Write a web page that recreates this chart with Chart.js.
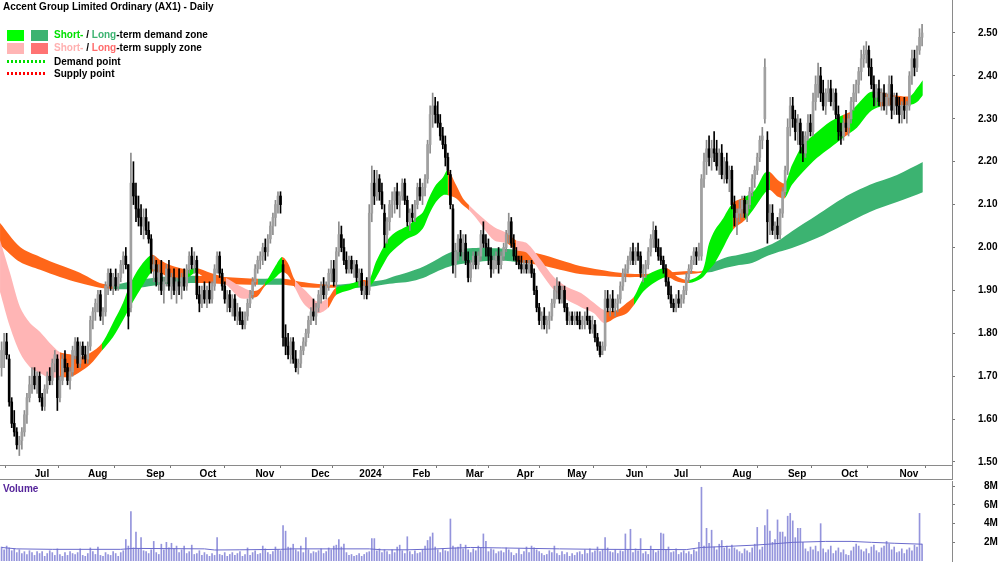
<!DOCTYPE html>
<html><head><meta charset="utf-8">
<script src="https://cdn.jsdelivr.net/npm/chart.js@4.4.1/dist/chart.umd.min.js"></script>
<style>
html,body{margin:0;padding:0;background:#fff;}
#wrap{position:relative;width:1000px;height:562px;overflow:hidden;font-family:"Liberation Sans",Arial,sans-serif;}
#pc{position:absolute;left:0;top:0;}
#vc{position:absolute;left:0;top:480px;}
.t{position:absolute;font-weight:bold;font-size:10px;white-space:nowrap;line-height:12px;color:#000;}
.box{position:absolute;width:17px;height:11px;}
.dots{position:absolute;width:38px;height:3px;}
</style></head>
<body><div id="wrap">
<canvas id="pc" width="1000" height="480" style="width:1000px;height:480px"></canvas>
<canvas id="vc" width="1000" height="82" style="width:1000px;height:82px"></canvas>
<div class="t" style="left:3px;top:1px;">Accent Group Limited Ordinary (AX1) - Daily</div>
<div class="box" style="left:7px;top:30px;background:#00ff00"></div>
<div class="box" style="left:31px;top:30px;background:#3cb371"></div>
<div class="t" style="left:54px;top:29px;"><span style="color:#00e000">Short-</span> / <span style="color:#3cb371">Long</span>-term demand zone</div>
<div class="box" style="left:7px;top:43px;background:#ffb5b5"></div>
<div class="box" style="left:31px;top:43px;background:#ff7373"></div>
<div class="t" style="left:54px;top:42px;"><span style="color:#ffb0b0">Short-</span> / <span style="color:#ff6b6b">Long</span>-term supply zone</div>
<div class="dots" style="left:7px;top:60px;background:repeating-linear-gradient(90deg,#00e000 0 2px,transparent 2px 4px)"></div>
<div class="t" style="left:54px;top:56px;">Demand point</div>
<div class="dots" style="left:7px;top:72px;background:repeating-linear-gradient(90deg,#ff0000 0 2px,transparent 2px 4px)"></div>
<div class="t" style="left:54px;top:68px;">Supply point</div>
<div class="t" style="left:3px;top:483px;color:#55249a;">Volume</div>
</div>
<script>
// ---- Daily prices (cents) ----
const opens = [
172,176,178,174,164,159,157,154,155,157,
161,165,168,170,168,170,165,163,167,170,
169,173,174,165,169,174,172,169,171,176,
178,173,177,175,174,177,183,185,187,189,
184,185,191,194,191,193,191,193,196,198,
196,186,215,212,209,207,205,207,204,202,
195,196,192,194,190,192,195,191,193,190,
192,191,193,191,195,198,196,197,189,187,
190,188,190,188,191,195,198,194,191,188,
189,186,188,184,185,183,182,184,187,189,
192,195,197,198,200,199,202,205,207,210,
212,196,179,177,175,178,174,172,173,176,
178,180,183,185,184,186,189,191,189,191,
194,195,192,199,203,200,197,195,197,195,
196,193,194,190,191,190,208,215,212,216,
213,208,203,206,210,211,213,210,212,215,
211,206,208,207,210,214,212,214,216,224,
231,233,231,229,226,224,221,217,209,196,
199,202,199,201,197,193,196,198,196,198,
203,201,200,198,195,197,198,196,198,200,
203,206,201,198,197,196,195,196,195,196,
194,190,186,183,184,182,183,184,187,190,
191,188,190,186,183,184,183,184,183,182,
183,184,183,181,182,179,177,176,177,188,
186,188,186,187,188,191,194,195,197,199,
197,199,198,194,195,196,199,202,204,200,
198,197,195,192,189,187,186,188,187,188,
190,193,195,197,199,198,198,216,220,223,
221,223,222,219,222,217,220,216,218,210,
207,208,209,211,208,210,213,216,218,221,
225,230,225,206,208,204,205,203,208,213,
218,228,233,230,227,229,224,222,226,229,
227,234,238,240,236,233,236,237,234,236,
231,227,226,229,228,230,234,236,238,241,
244,245,246,242,238,235,237,234,236,233,
235,238,232,235,233,231,233,232,233,240,244,242,246,249];
const highs = [
178,180,180,175,165,162,158,156,158,162,
166,170,172,172,171,171,166,168,171,172,
174,176,175,170,175,176,173,172,177,179,
179,178,178,177,178,184,186,188,190,190,
186,192,195,195,194,195,194,197,199,200,
196,222,220,215,212,210,209,209,206,203,
198,197,196,197,193,196,197,194,195,193,
195,194,195,196,199,200,199,198,191,191,
192,191,192,192,196,199,199,195,192,190,
190,189,189,187,186,185,185,188,190,193,
196,198,199,201,202,203,206,208,211,213,
213,197,182,180,179,179,176,174,177,179,
181,184,186,188,187,190,192,193,192,195,
197,197,200,206,205,202,199,198,198,197,
197,195,195,192,193,210,219,218,218,217,
215,210,207,211,213,214,215,213,216,216,
212,209,210,211,215,216,215,217,225,233,
236,235,234,231,228,226,222,218,210,201,
203,204,203,203,199,197,199,199,199,204,
206,203,202,200,198,199,200,199,201,204,
208,207,203,200,198,198,197,197,197,197,
195,191,187,185,186,184,185,188,191,193,
192,191,191,187,185,185,185,185,185,184,
185,186,184,184,183,180,178,178,190,190,
189,190,188,189,192,195,196,198,200,201,
200,201,199,196,197,200,203,206,205,202,
200,198,196,193,191,188,189,190,189,191,
194,196,198,200,200,201,217,222,225,226,
225,227,225,223,224,221,222,219,219,212,
209,211,212,212,211,214,217,219,222,226,
228,244,227,210,210,206,207,209,214,219,
230,235,235,232,231,230,227,227,231,231,
236,240,243,242,239,237,239,239,237,237,
233,229,230,232,231,235,238,239,242,246,
247,248,247,244,240,238,239,237,238,236,
240,240,236,236,235,234,235,234,241,246,246,247,251,252];
const lows = [
170,172,174,163,158,156,153,151.5,153,156,
159,164,166,167,166,164,162,162,166,168,
168,171,162,164,168,171,168,167,170,174,
172,172,174,173,173,176,181,183,185,183,
182,184,189,190,189,190,190,192,194,195,
181,185,210,206,205,203,202,203,201,194,
192,191,190,189,187,191,190,188,189,187,
189,188,190,190,194,195,194,188,185,186,
187,186,187,187,190,194,193,190,187,185,
185,184,183,182,182,181,181,183,186,188,
191,194,195,196,197,198,201,203,205,208,
208,177,175,174,173,173,171,170.5,172,175,
177,179,182,183,182,185,187,188,188,190,
192,191,191,198,199,196,194,194,194,193,
192,191,189,188,188,189,206,210,211,211,
209,200,201,204,207,208,209,207,211,210,
205,204,206,206,209,211,210,212,215,222,
228,229,228,225,223,219,217,209,194,193,
197,198,197,196,192,192,195,195,195,197,
200,198,196,193,194,195,194,195,197,199,
201,200,197,196,195,194,194,194,194,193,
189,185,182,181,181,180,181,183,186,188,
187,187,185,182,182,182,182,182,181,181,
181,182,180,180,178,176,174.5,175,176,185,
184,185,184,185,187,190,192,194,196,196,
196,197,193,192,193,195,198,200,199,197,
196,194,191,188,186,185,185,186,186,187,
189,192,194,196,196,197,197,214,217,219,
218,220,218,217,216,215,215,213,209,205,
203,206,207,207,206,209,212,214,217,220,
223,229,201,203,203,202,202,202,207,212,
217,226,228,225,224,222,220,221,225,226,
226,232,235,234,232,231,234,233,232,230,
225,224,225,227,226,229,232,234,236,239,
242,243,240,237,233,233,233,232,232,231,
233,230,231,231,229,229,230,229,232,238,240,241,245,247];
const closes = [
176,178,175,164,159,157,154,155,157,161,
165,168,170,168,170,165,163,167,170,169,
173,175,165,169,174,172,169,171,176,178,
173,177,175,174,177,183,185,187,189,184,
185,191,194,191,193,191,193,196,198,196,
184,215,212,209,207,205,207,204,202,195,
196,192,194,190,192,195,191,193,190,192,
191,193,191,195,198,196,197,189,187,190,
188,190,188,191,195,198,194,191,188,189,
186,188,184,185,183,182,184,187,189,192,
195,197,198,200,199,202,205,207,210,212,
210,179,177,175,178,174,172,173,176,178,
180,183,185,184,186,189,191,189,191,194,
195,192,199,203,200,197,195,197,195,196,
193,194,190,191,189,208,215,212,216,213,
210,203,206,210,211,213,210,212,215,211,
206,208,207,210,214,212,214,216,224,231,
233,231,229,226,224,221,218,210,196,199,
202,199,201,197,193,196,198,196,198,203,
201,200,198,195,197,198,196,198,200,203,
206,201,198,197,196,195,196,195,196,194,
190,186,183,184,182,183,184,187,190,191,
188,190,186,183,184,183,184,183,182,183,
184,183,181,182,179,177,175,177,188,186,
188,186,187,188,191,194,195,197,199,197,
199,198,194,195,196,199,202,204,200,198,
197,195,192,189,187,186,188,187,188,190,
193,195,197,199,198,200,216,220,223,221,
223,222,219,222,217,220,216,218,210,207,
208,209,211,208,210,213,216,218,221,225,
226,242,206,208,204,205,203,208,213,218,
228,233,230,227,229,224,222,226,229,227,
234,238,240,236,233,236,237,234,236,231,
227,226,229,228,230,234,236,238,241,244,
245,246,242,238,235,237,234,236,233,235,
238,232,235,233,231,233,232,233,240,244,242,246,249,250];
// ---- Daily volume (millions) ----
const volumes = [
1.5,1.2,1.6,1.4,1.1,1.3,0.9,1.2,0.8,1.0,
0.7,1.1,0.9,0.6,1.0,0.8,1.0,0.5,0.8,1.1,
0.9,0.6,1.3,0.7,0.5,0.9,0.6,1.0,0.8,0.7,
0.9,1.3,0.6,0.5,0.8,1.4,1.0,0.7,1.5,0.6,
0.5,0.9,0.7,0.6,1.0,0.8,0.5,0.9,1.1,2.3,
1.6,5.3,1.4,3.1,1.3,2.5,1.1,1.0,0.8,1.2,
2.1,0.9,0.7,1.8,1.2,2.0,1.4,1.9,1.3,1.6,
0.9,1.2,1.6,0.8,1.0,1.7,0.7,0.8,1.1,0.6,
0.9,0.7,0.5,0.8,0.6,2.5,0.7,0.6,0.9,0.5,
0.7,0.9,0.6,0.8,1.0,0.5,0.7,1.4,0.6,0.9,
1.1,0.7,0.8,1.6,1.3,0.9,0.7,1.0,1.5,1.2,
1.1,3.8,3.2,1.5,1.4,1.8,1.2,1.0,1.6,0.9,
2.5,1.2,0.8,1.0,0.9,1.1,1.3,0.8,1.0,1.4,
1.2,1.6,1.7,2.3,1.5,1.8,0.9,0.6,0.7,0.5,
0.6,0.8,0.5,0.7,0.9,1.0,2.4,2.4,1.1,1.3,
0.9,1.2,1.0,0.7,1.2,0.9,1.5,1.7,1.1,0.8,
2.6,1.0,0.7,1.1,0.8,0.9,1.2,1.6,2.2,2.6,
3.0,1.5,1.2,0.9,1.3,1.1,1.0,4.5,1.6,1.4,
1.5,1.8,1.3,1.7,1.2,0.9,1.3,1.1,1.6,1.4,
2.9,2.1,1.0,1.3,1.2,0.8,1.0,1.1,0.9,1.4,
1.2,0.9,0.6,0.8,1.3,0.7,1.0,1.5,0.9,1.6,
1.4,1.2,1.0,0.8,0.6,0.7,1.1,0.9,1.6,0.8,
0.6,1.0,0.7,0.9,0.5,0.8,0.6,0.9,1.0,0.7,
1.2,0.8,1.3,0.9,1.1,1.5,1.0,1.2,2.5,1.4,
1.0,0.9,1.2,0.8,1.1,1.0,2.9,1.2,3.4,0.9,
1.3,1.1,2.4,0.8,1.0,0.7,1.6,1.2,0.9,1.1,
3.0,2.9,1.2,1.5,0.9,1.0,1.3,0.7,0.9,1.1,
0.8,1.0,0.7,1.2,1.0,2.0,7.9,1.6,3.5,1.9,
3.3,1.5,1.2,1.8,2.2,1.4,1.6,1.3,1.7,1.4,
1.2,1.0,0.8,1.3,1.1,0.9,1.4,1.8,3.6,1.2,
1.5,3.8,5.5,3.2,2.0,2.3,4.4,3.1,3.1,2.6,
4.8,5.1,4.3,2.5,3.5,3.5,2.0,1.3,1.0,1.5,
1.2,1.6,1.0,4.0,1.3,0.9,1.2,1.6,0.8,1.1,
1.4,0.9,1.2,0.7,0.6,1.1,1.5,1.8,1.6,1.2,
1.0,1.3,0.8,1.5,1.7,1.1,0.9,1.4,1.6,2.1,
1.8,1.2,1.5,0.9,1.0,1.3,0.8,1.2,1.4,1.1,1.7,1.5,5.1,1.8];
// Volume moving-average line, sampled (day index, millions)
const volMaX   = [0,6,20,47,52,80,84,94,110,115,145,150,160,170,178,185,197,220,236,270,276,285,297,305,312,325,335,343,352,363];
const volMaVal = [1.45,1.3,1.25,1.25,1.35,1.3,1.18,1.2,1.25,1.3,1.3,1.2,1.2,1.28,1.38,1.45,1.4,1.3,1.25,1.22,1.45,1.55,1.7,1.85,2.0,2.1,2.1,2.0,1.9,1.8];
// ---- Long-term zone (sampled edges, $) ; state d=demand, s=supply ----
const ltX = [-0.6,7.3,15.2,23.0,30.9,38.8,43.9,50.6,62.5,76.3,88.1,101.1,111.4,117.7,124.8,131.9,139.4,144.9,150.4,155.5,160.6,166.2,171.3,176.4,181.9,187.1,192.6,198.5,203.3,212.3,220.2,228.1,236.0,243.9,251.7,261.6,271.5,276.2,280.1,285.3,290.8,295.9,301.0,306.6,311.7,321.6,331.8,342.4,353.1,363.3];
const ltUpper = [2.057,2.001,1.978,1.959,1.941,1.917,1.913,1.920,1.931,1.934,1.931,1.927,1.927,1.920,1.915,1.913,1.917,1.920,1.924,1.934,1.943,1.955,1.971,1.987,1.997,1.999,1.999,1.997,1.994,1.985,1.971,1.957,1.948,1.941,1.938,1.941,1.945,1.945,1.962,1.976,1.983,1.990,2.001,2.017,2.038,2.076,2.115,2.146,2.169,2.199];
const ltLower = [2.006,1.966,1.948,1.931,1.917,1.906,1.903,1.903,1.913,1.917,1.915,1.913,1.913,1.908,1.906,1.906,1.906,1.908,1.913,1.917,1.920,1.929,1.943,1.955,1.962,1.966,1.969,1.969,1.966,1.959,1.948,1.938,1.934,1.931,1.931,1.934,1.938,1.941,1.943,1.952,1.959,1.964,1.978,1.990,1.999,2.022,2.052,2.083,2.106,2.129];
const ltState = "ssssssdddssdsssdddddddddddddsssssssssddddddddddddd".split("");
// ---- Short-term zone ; state g=demand, p=supply, o=supply (deep) ----
const stX = [-0.6,3.3,7.3,11.2,15.2,19.1,23.0,27.0,30.9,34.9,39.6,43.9,47.9,50.6,54.6,59.3,62.5,66.4,73.5,76.7,82.2,88.5,94.0,98.3,101.1,103.9,107.8,110.6,112.9,115.7,119.6,124.8,128.7,131.9,137.4,142.5,144.9,147.6,150.4,152.8,155.5,158.3,160.6,163.4,166.2,168.5,171.3,174.1,176.0,179.2,181.9,184.3,187.1,194.2,199.3,202.9,207.2,212.7,217.8,222.9,228.5,233.6,237.6,242.7,246.6,249.4,253.7,262.0,266.7,271.1,276.2,279.0,281.3,284.1,288.4,293.2,297.1,301.0,303.0,306.2,308.9,311.7,316.0,321.6,326.7,331.8,334.6,337.3,342.4,346.4,352.3,358.2,361.0,363.3];
const stUpper = [2.017,1.941,1.861,1.824,1.803,1.777,1.756,1.751,1.745,1.754,1.777,1.824,1.871,1.913,1.955,1.983,1.971,1.959,1.948,1.952,1.941,1.929,1.910,1.899,1.901,1.917,1.955,1.978,1.964,1.924,1.901,1.873,1.882,1.906,1.915,1.924,1.924,1.966,1.999,2.022,2.036,2.045,2.052,2.069,2.083,2.115,2.146,2.164,2.181,2.146,2.115,2.099,2.083,2.048,2.034,2.017,2.010,1.971,1.931,1.908,1.894,1.871,1.854,1.854,1.871,1.885,1.931,1.952,1.931,1.924,1.943,2.010,2.041,2.064,2.104,2.118,2.134,2.174,2.176,2.157,2.150,2.192,2.239,2.269,2.293,2.309,2.316,2.332,2.362,2.362,2.355,2.353,2.372,2.390];
const stLower = [1.896,1.815,1.754,1.721,1.707,1.696,1.698,1.698,1.710,1.727,1.760,1.791,1.831,1.861,1.901,1.943,1.941,1.929,1.931,1.941,1.922,1.913,1.882,1.882,1.887,1.910,1.929,1.943,1.936,1.906,1.866,1.847,1.859,1.889,1.901,1.910,1.908,1.929,1.959,1.983,1.999,2.013,2.022,2.029,2.045,2.076,2.106,2.122,2.122,2.115,2.099,2.087,2.069,2.017,2.010,1.994,1.987,1.941,1.901,1.878,1.861,1.847,1.824,1.838,1.847,1.866,1.901,1.931,1.920,1.917,1.929,1.948,1.964,1.994,2.041,2.064,2.094,2.127,2.134,2.118,2.115,2.146,2.176,2.209,2.232,2.255,2.267,2.279,2.316,2.328,2.332,2.332,2.339,2.355];
const stState = ("pppppp"+"oooo"+"ggggg"+"ooo"+"g"+"oo"+"pp"+"oo"+"gg"+"oo"+"ppp"+"o"+"gg"+"o"+"gggggggggggg"+"ooo"+"ppp"+"o"+"ppppppp"+"ooo"+"gg"+"oo"+"ggggg"+"o"+"ggg"+"oo"+"ggggg"+"o"+"ggg"+"oo"+"ggg").split("");
// ---- Axis ticks ----
const monthIdx = [12,33,56,77,99,121,140,161,182,202,222,245,264,287,309,330,353];
const monthLabels = ['Jul','Aug','Sep','Oct','Nov','Dec','2024','Feb','Mar','Apr','May','Jun','Jul','Aug','Sep','Oct','Nov'];
const priceTicks = [1.5,1.6,1.7,1.8,1.9,2.0,2.1,2.2,2.3,2.4,2.5];
const volTicks = [2,4,6,8];

// ---------------- build ----------------
Chart.defaults.font.family = '"Liberation Sans", Arial, sans-serif';
const XMIN = -0.62, XMAX = 374.8;
const ZC = {p:'#ffb5b5', o:'#ff6619', g:'#00f000', d:'#3cb371', s:'#ff6619'};
function band(xs, up, lo, st, ord){
  return [
    {type:'line', data: xs.map((x,k)=>({x:x, y:up[k]})), borderColor:'rgba(0,0,0,0)', borderWidth:0, pointRadius:0, tension:0.3,
     fill:'+1', backgroundColor: ZC[st[0]], segment:{backgroundColor: c => ZC[st[c.p0DataIndex]]}, order:ord},
    {type:'line', data: xs.map((x,k)=>({x:x, y:lo[k]})), borderColor:'rgba(0,0,0,0)', borderWidth:0, pointRadius:0, tension:0.3,
     fill:false, order:ord}
  ];
}
const up = closes.map((c,i)=> c >= opens[i]);
const wickData = highs.map((h,i)=>({x:i, y:[lows[i]/100, h/100]}));
const bodyData = opens.map((o,i)=>({x:i, y:[o/100, closes[i]/100]}));
const tickFont = {size:10, weight:'bold'};
function noPad(s){ s.paddingTop=0; s.paddingBottom=0; s.paddingLeft=0; s.paddingRight=0; }

const frame = {id:'frame', afterDraw(c){
  const ctx=c.ctx; ctx.save(); ctx.strokeStyle='#8a8a8a'; ctx.lineWidth=1;
  ctx.beginPath(); ctx.moveTo(0,479.5); ctx.lineTo(953,479.5);
  ctx.moveTo(952.5,465); ctx.lineTo(952.5,480); ctx.stroke(); ctx.restore();
}};

new Chart(document.getElementById('pc'), {
  type:'bar',
  data:{datasets:[
    ...band(ltX, ltUpper, ltLower, ltState, 6),
    ...band(stX, stUpper, stLower, stState, 5),
    {type:'bar', data:wickData, grouped:false, barThickness:1, backgroundColor: c => up[c.dataIndex] ? '#8c8c8c' : '#000000', order:2},
    {type:'bar', data:bodyData, grouped:false, barThickness:2, backgroundColor: c => up[c.dataIndex] ? '#a0a0a0' : '#000000', order:1}
  ]},
  options:{
    responsive:false, animation:false, events:[],
    layout:{padding:0},
    plugins:{legend:{display:false}, tooltip:{enabled:false}},
    scales:{
      x:{type:'linear', min:XMIN, max:XMAX, offset:false, position:'bottom',
        afterBuildTicks: s => { s.ticks = monthIdx.map(v=>({value:v})); },
        afterFit: s => { s.height = 15; noPad(s); },
        ticks:{autoSkip:false, maxRotation:0, align:'start', padding:0, color:'#000', font:tickFont,
          callback:(v,i)=> ' ' + monthLabels[i]},
        grid:{drawOnChartArea:false, drawTicks:true, tickLength:3, color:'#777', tickColor:'#777'},
        border:{display:true, color:'#8a8a8a'}
      },
      y:{type:'linear', position:'right', min:1.493, max:2.5769,
        afterBuildTicks: s => { s.ticks = priceTicks.map(v=>({value:v})); },
        afterFit: s => { s.width = 48; noPad(s); },
        ticks:{padding:23, color:'#000', font:tickFont, callback: v => Number(v).toFixed(2)},
        grid:{drawOnChartArea:false, drawTicks:true, tickLength:3, color:'#777', tickColor:'#777'},
        border:{display:true, color:'#8a8a8a'}
      }
    }
  },
  plugins:[frame]
});

new Chart(document.getElementById('vc'), {
  type:'bar',
  data:{datasets:[
    {type:'line', data: volMaX.map((x,k)=>({x:x, y:volMaVal[k]})), borderColor:'#6a6acc', borderWidth:1, pointRadius:0, tension:0, fill:false, order:1},
    {type:'bar', data: volumes.map((v,i)=>({x:i, y:v})), grouped:false, barThickness:1, backgroundColor:'#9494dc', order:2}
  ]},
  options:{
    responsive:false, animation:false, events:[],
    layout:{padding:{top:1, bottom:1, left:0, right:0}},
    plugins:{legend:{display:false}, tooltip:{enabled:false}},
    scales:{
      x:{type:'linear', min:XMIN, max:XMAX, offset:false, display:false},
      y:{type:'linear', position:'right', min:0, max:8.57,
        afterBuildTicks: s => { s.ticks = volTicks.map(v=>({value:v})); },
        afterFit: s => { s.width = 48; noPad(s); },
        ticks:{padding:29, color:'#000', font:tickFont, callback: v => v + 'M'},
        grid:{drawOnChartArea:false, drawTicks:true, tickLength:3, color:'#777', tickColor:'#777'},
        border:{display:true, color:'#8a8a8a'}
      }
    }
  }
});
</script>
</body></html>
